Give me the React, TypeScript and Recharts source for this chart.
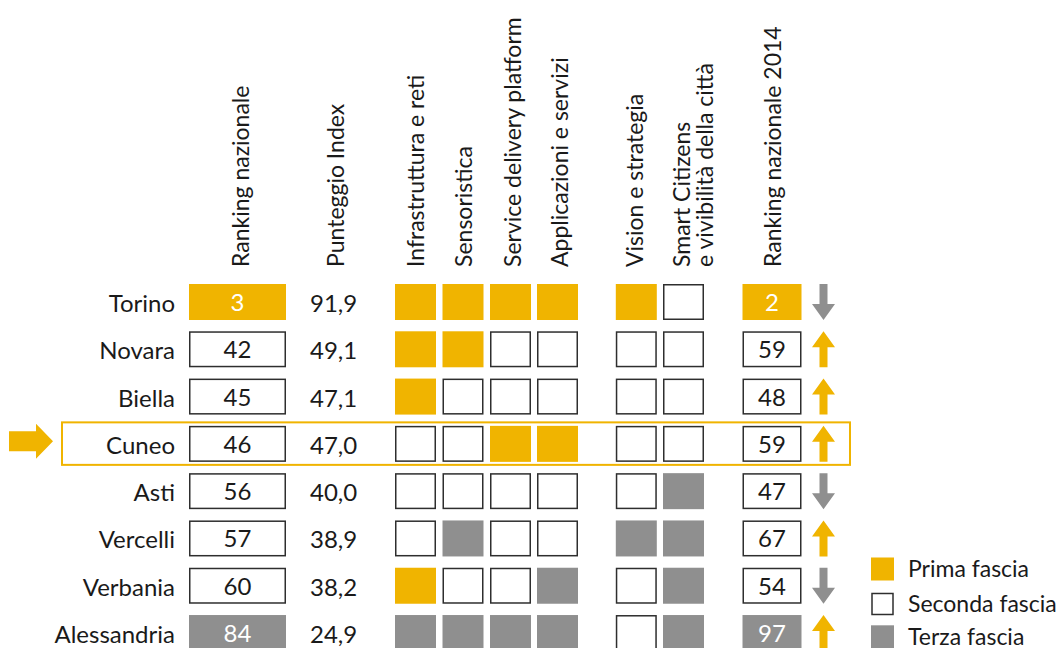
import React from "react";
import { ScatterChart, Scatter, XAxis, YAxis } from "recharts";

// dati (fascia: 1 = prima, 2 = seconda, 3 = terza)
const cities = ["Torino", "Novara", "Biella", "Cuneo", "Asti", "Vercelli", "Verbania", "Alessandria"];
const rankingNazionale = [3, 42, 45, 46, 56, 57, 60, 84];
const fasciaRanking = [1, 2, 2, 2, 2, 2, 2, 3];
const punteggioIndex = [91.9, 49.1, 47.1, 47.0, 40.0, 38.9, 38.2, 24.9];
const infrastrutturaReti = [1, 1, 1, 2, 2, 2, 1, 3];
const sensoristica = [1, 1, 2, 2, 2, 3, 2, 3];
const serviceDelivery = [1, 2, 2, 1, 2, 2, 2, 3];
const applicazioniServizi = [1, 2, 2, 1, 2, 2, 3, 3];
const visionStrategia = [1, 2, 2, 2, 2, 3, 2, 2];
const smartCitizens = [2, 2, 2, 2, 3, 3, 3, 3];
const ranking2014 = [2, 59, 48, 59, 47, 67, 54, 97];
const fasciaRanking2014 = [1, 2, 2, 2, 2, 2, 2, 3];
const tendenza = ["giu", "su", "su", "su", "giu", "su", "giu", "su"];
const cittaEvidenziata = "Cuneo";
const intestazioni = [
  ["Ranking nazionale"],
  ["Punteggio Index"],
  ["Infrastruttura e reti"],
  ["Sensoristica"],
  ["Service delivery platform"],
  ["Applicazioni e servizi"],
  ["Vision e strategia"],
  ["Smart Citizens", "e vivibilità della città"],
  ["Ranking nazionale 2014"],
];
const fasce = ["Prima fascia", "Seconda fascia", "Terza fascia"];

// stile / layout
const GIALLO = "#f0b400";
const GRIGIO = "#8f8f8f";
const BORDO = "#2e2e2e";
const TESTO = "#1a1a1a";
const FONT = "Lato, 'Open Sans', sans-serif";
const FW = 400;
const FS = 24;
const FS_HEAD = 23;
const FS_LEG = 23;

const W = 1061;
const H = 648;
const ROW_TOP = 302;
const ROW_STEP = 47.29;
const Y_DOMAIN = [-ROW_TOP / ROW_STEP, (H - ROW_TOP) / ROW_STEP];

const X_CITTA = 175;
const X_PUNTEGGIO = 310;
const X_TREND = 823.5;
const X_RANK = 237.5;
const X_DIM = [415.5, 463, 510.5, 557.5, 636.3, 683.5];
const X_RANK14 = 772;
const HEADER_X = [249, 344, 424, 472, 521, 568, 643, 690, 781];
const HEADER_Y = (267 - ROW_TOP) / ROW_STEP;
const LEGEND_X = 882.5;
const LEGEND_Y = [5.646, 6.386, 7.08];
const BOX_H = 36;

const fillOf = (f: number) => (f === 1 ? GIALLO : f === 3 ? GRIGIO : "#ffffff");

const dimensioni = [infrastrutturaReti, sensoristica, serviceDelivery, applicazioniServizi, visionStrategia, smartCitizens];

const boxData: any[] = [];
cities.forEach((_, i) => {
  boxData.push({ x: X_RANK, y: i, fascia: fasciaRanking[i], label: String(rankingNazionale[i]), w: 97 });
  dimensioni.forEach((d, k) => boxData.push({ x: X_DIM[k], y: i, fascia: d[i], w: 41 }));
  boxData.push({ x: X_RANK14, y: i, fascia: fasciaRanking2014[i], label: String(ranking2014[i]), w: 59 });
});

const cittaData = cities.map((c, i) => ({ x: X_CITTA, y: i, label: c }));
const punteggioData = punteggioIndex.map((p, i) => ({ x: X_PUNTEGGIO, y: i, label: p.toFixed(1).replace(".", ",") }));
const trendData = tendenza.map((t, i) => ({ x: X_TREND, y: i, dir: t }));
const headerData = intestazioni.map((lines, k) => ({ x: HEADER_X[k], y: HEADER_Y, lines }));
const legendData = fasce.map((f, k) => ({ x: LEGEND_X, y: LEGEND_Y[k], label: f, fascia: k + 1 }));
const evidenzaData = [{ x: 455.5, y: cities.indexOf(cittaEvidenziata) }];

const BoxShape = (props: any) => {
  const { cx, cy, payload } = props;
  const f = payload.fascia;
  const w = payload.w;
  const outlined = f === 2;
  return (
    <g>
      {outlined ? (
        <rect x={cx - w / 2 + 0.75} y={cy - BOX_H / 2 + 0.75} width={w - 1.5} height={BOX_H - 1.5} fill="#fff" stroke={BORDO} strokeWidth={1.5} />
      ) : (
        <rect x={cx - w / 2} y={cy - BOX_H / 2} width={w} height={BOX_H} fill={fillOf(f)} />
      )}
      {payload.label && (
        <text x={cx} y={cy + 9} textAnchor="middle" fontFamily={FONT} fontWeight={FW} fontSize={FS} fill={outlined ? TESTO : "#ffffff"}>
          {payload.label}
        </text>
      )}
    </g>
  );
};

const CittaShape = ({ cx, cy, payload }: any) => (
  <text x={cx} y={cy + 10} textAnchor="end" fontFamily={FONT} fontWeight={FW} fontSize={FS} fill={TESTO}>
    {payload.label}
  </text>
);

const PunteggioShape = ({ cx, cy, payload }: any) => (
  <text x={cx} y={cy + 10} textAnchor="start" fontFamily={FONT} fontWeight={FW} fontSize={FS} fill={TESTO}>
    {payload.label}
  </text>
);

const TrendShape = ({ cx, cy, payload }: any) => {
  const d =
    payload.dir === "su"
      ? `M${cx} ${cy - 18} L${cx + 11.5} ${cy - 2} L${cx + 4} ${cy - 2} L${cx + 4} ${cy + 18} L${cx - 4} ${cy + 18} L${cx - 4} ${cy - 2} L${cx - 11.5} ${cy - 2} Z`
      : `M${cx} ${cy + 18} L${cx + 11.5} ${cy + 2} L${cx + 4} ${cy + 2} L${cx + 4} ${cy - 18} L${cx - 4} ${cy - 18} L${cx - 4} ${cy + 2} L${cx - 11.5} ${cy + 2} Z`;
  return <path d={d} fill={payload.dir === "su" ? GIALLO : GRIGIO} />;
};

const HeaderShape = ({ cx, cy, payload }: any) => (
  <g>
    {payload.lines.map((line: string, j: number) => (
      <text
        key={j}
        x={cx + j * 23}
        y={cy}
        transform={`rotate(-90 ${cx + j * 23} ${cy})`}
        textAnchor="start"
        fontFamily={FONT}
        fontWeight={FW}
        fontSize={FS_HEAD}
        fill={TESTO}
      >
        {line}
      </text>
    ))}
  </g>
);

const LegendShape = ({ cx, cy, payload }: any) => (
  <g>
    {payload.fascia === 2 ? (
      <rect x={cx - 10.5} y={cy - 10.5} width={21} height={21} fill="#fff" stroke={BORDO} strokeWidth={1.5} />
    ) : (
      <rect x={cx - 11.5} y={cy - 11.5} width={23} height={23} fill={fillOf(payload.fascia)} />
    )}
    <text x={cx + 25.5} y={cy + 8} fontFamily={FONT} fontWeight={FW} fontSize={FS_LEG} fill={TESTO}>
      {payload.label}
    </text>
  </g>
);

const EvidenzaShape = ({ cx, cy }: any) => (
  <g>
    <rect x={cx - 393.5} y={cy - 21.5} width={788} height={42.5} fill="none" stroke={GIALLO} strokeWidth={2} />
    <path
      d={`M${cx - 446.5} ${cy - 12.5} L${cx - 419.5} ${cy - 12.5} L${cx - 419.5} ${cy - 20} L${cx - 402.5} ${cy - 2.5} L${cx - 419.5} ${cy + 15} L${cx - 419.5} ${cy + 7.5} L${cx - 446.5} ${cy + 7.5} Z`}
      fill={GIALLO}
    />
  </g>
);

export default function App() {
  return (
    <div style={{ position: "absolute", left: 0, top: 0 }}>
      <ScatterChart width={W} height={H} margin={{ top: 0, right: 0, bottom: 0, left: 0 }}>
        <XAxis type="number" dataKey="x" domain={[0, W]} allowDataOverflow hide />
        <YAxis type="number" dataKey="y" domain={Y_DOMAIN} allowDataOverflow reversed hide />
        <Scatter data={evidenzaData} shape={EvidenzaShape} isAnimationActive={false} />
        <Scatter data={headerData} shape={HeaderShape} isAnimationActive={false} />
        <Scatter data={cittaData} shape={CittaShape} isAnimationActive={false} />
        <Scatter data={punteggioData} shape={PunteggioShape} isAnimationActive={false} />
        <Scatter data={boxData} shape={BoxShape} isAnimationActive={false} />
        <Scatter data={trendData} shape={TrendShape} isAnimationActive={false} />
        <Scatter data={legendData} shape={LegendShape} isAnimationActive={false} />
      </ScatterChart>
    </div>
  );
}
